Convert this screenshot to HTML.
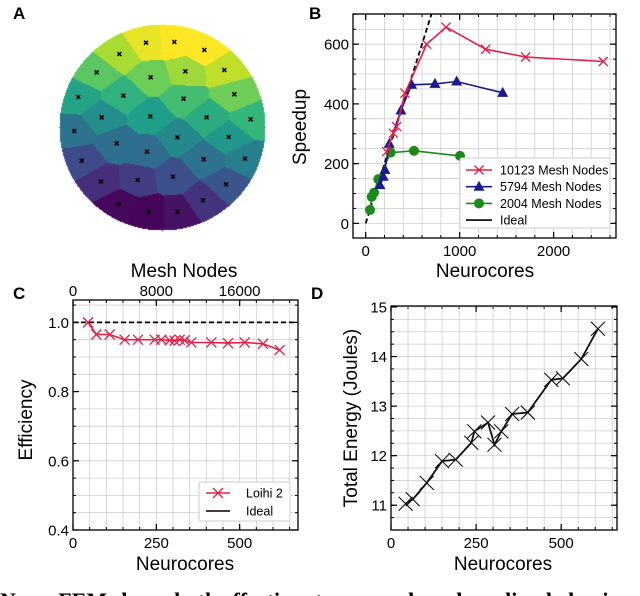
<!DOCTYPE html>
<html><head><meta charset="utf-8">
<style>
body{margin:0;background:#fff;width:640px;height:596px;overflow:hidden;position:relative;font-family:"Liberation Sans",sans-serif}
svg{position:absolute;left:0;top:0}
canvas{position:absolute}
</style></head>
<body>
<canvas id="mesh" width="220" height="220" style="left:52px;top:17px"></canvas>
<svg id="fig" width="640" height="596"></svg>
<script>
// ---------- Data ----------
const seedX=[358,438,523,613,290,452,556,673,235,370,551,703,305,451,620,752,223,350,532,686,245,441,611,735,303,413,519,678,356,446,532,609];
const seedY=[162,128,126,150,217,232,214,210,291,287,296,283,352,349,352,358,393,430,412,411,482,455,478,476,545,540,530,553,613,635,635,601];
// Panel B
const redX=[223,294,330,418,649,855,1277,1702,2528];
const redY=[240,302,324,436,600,657,583,557,542];
const blueX=[152,187,205,251,375,489,737,968,1458];
const blueY=[128,156,179,266,378,464,467,475,437];
const greenX=[46,64,89,134,266,514,1004];
const greenY=[45,89,103,148,237,243,226];
const idealBX=[0,720];
const idealBY=[0,720];
const bXTicks=[0,1000,2000];
const bYTicks=[0,200,400,600];
// Panel C
const effX=[45,70,110,155,195,245,265,290,305,320,335,355,415,465,515,570,620];
const effY=[1.0,0.965,0.965,0.95,0.95,0.95,0.95,0.948,0.947,0.95,0.948,0.942,0.942,0.94,0.942,0.938,0.92];
const cXTicks=[0,250,500];
const cYTicks=[0.4,0.6,0.8,1.0];
const cTopTicks=[0,8000,16000];
// Panel D
const enX=[43,64,105,150,190,236,245,285,304,324,356,402,471,505,559,608];
const enY=[11.03,11.12,11.45,11.89,11.92,12.26,12.49,12.67,12.22,12.49,12.84,12.87,13.53,13.56,13.95,14.56];
const dXTicks=[0,250,500];
const dYTicks=[11,12,13,14,15];

// ---------- Panel A ----------
(function(){
  const cv=document.getElementById('mesh');const ctx=cv.getContext('2d');
  const stops=[[68,1,84],[72,40,120],[62,74,137],[49,104,142],[38,130,142],[31,158,137],[53,183,121],[109,205,89],[180,222,44],[253,231,37]];
  function vir(t){t=Math.max(0,Math.min(1,t));const f=t*(stops.length-1);const i=Math.min(stops.length-2,Math.floor(f));const r=f-i;
    return stops[i].map((c,k)=>Math.round(c+(stops[i+1][k]-c)*r));}
  const sx=seedX.map(v=>v/3),sy=seedY.map(v=>v/3);
  const cols=sx.map((x,i)=>vir(1-(seedY[i]-120)/530+(seedX[i]-480)/2500));
  const img=ctx.createImageData(220,220);const cx=162-52,cy=127-17,R=103;
  for(let y=0;y<220;y++)for(let x=0;x<220;x++){
    const dx=x-cx,dy=y-cy;if(dx*dx+dy*dy>R*R)continue;
    let best=0,bd=1e9;const gx=x+52,gy=y+17;
    for(let i=0;i<sx.length;i++){const d=(gx-sx[i])**2+(gy-sy[i])**2*1.6;if(d<bd){bd=d;best=i;}}
    const c=cols[best];const p=(y*220+x)*4;img.data[p]=c[0];img.data[p+1]=c[1];img.data[p+2]=c[2];img.data[p+3]=255;}
  ctx.putImageData(img,0,0);
})();

const NS='http://www.w3.org/2000/svg';
const svg=document.getElementById('fig');
function el(tag,attrs,parent){const e=document.createElementNS(NS,tag);for(const k in attrs)e.setAttribute(k,attrs[k]);(parent||svg).appendChild(e);return e;}
function txt(s,attrs,parent){const e=el('text',attrs,parent);e.textContent=s;return e;}

const gA=el('g',{});


for(let i=0;i<seedX.length;i++){const x=seedX[i]/3,y=seedY[i]/3;
  const m=el('path',{d:`M${x-2} ${y-2}L${x+2} ${y+2}M${x-2} ${y+2}L${x+2} ${y-2}`,stroke:'#000','stroke-width':1.5},gA);
  
  }

function axes(o){
  const g=el('g',{});
  
  
  const sx=v=>o.x0+(v-o.xmin)/(o.xmax-o.xmin)*(o.x1-o.x0);
  const sy=v=>o.y1-(v-o.ymin)/(o.ymax-o.ymin)*(o.y1-o.y0);
  for(let v=o.gx0;v<=o.xmax+1e-9;v+=o.gxs){const x=sx(v);if(x<o.x0||x>o.x1)continue;
    const l=el('line',{x1:x,x2:x,y1:o.y0,y2:o.y1,stroke:'#cfcfcf','stroke-width':0.8},g);
    el('line',{x1:x,x2:x,y1:o.y1,y2:o.y1-3,stroke:'#000','stroke-width':1},g);el('line',{x1:x,x2:x,y1:o.y0,y2:o.y0+3,stroke:'#000','stroke-width':1},g);}
  for(let v=o.gy0;v<=o.ymax+1e-9;v+=o.gys){const y=sy(v);if(y<o.y0-0.1||y>o.y1)continue;
    const l=el('line',{x1:o.x0,x2:o.x1,y1:y,y2:y,stroke:'#cfcfcf','stroke-width':0.8},g);
    el('line',{x1:o.x0,x2:o.x0+3,y1:y,y2:y,stroke:'#000','stroke-width':1},g);el('line',{x1:o.x1,x2:o.x1-3,y1:y,y2:y,stroke:'#000','stroke-width':1},g);}
  for(const v of o.xt){const x=sx(v);el('line',{x1:x,x2:x,y1:o.y1,y2:o.y1-6,stroke:'#000','stroke-width':1.2},g);el('line',{x1:x,x2:x,y1:o.y0,y2:o.y0+6,stroke:'#000','stroke-width':1.2},g);
    const t=txt(String(v),{x:x,y:o.y1+18,'font-size':15,'text-anchor':'middle'},g);}
  for(const v of o.yt){const y=sy(v);el('line',{x1:o.x0,x2:o.x0+6,y1:y,y2:y,stroke:'#000','stroke-width':1.2},g);el('line',{x1:o.x1,x2:o.x1-6,y1:y,y2:y,stroke:'#000','stroke-width':1.2},g);
    const t=txt(o.yf?o.yf(v):String(v),{x:o.x0-4,y:y+5.5,'font-size':15,'text-anchor':'end'},g);}
  const f=el('rect',{x:o.x0,y:o.y0,width:o.x1-o.x0,height:o.y1-o.y0,fill:'none',stroke:'#000','stroke-width':1.3},g);
  
  return {sx,sy,g};
}
function pts(a,X,Y){return X.map((v,i)=>a.sx(v).toFixed(1)+','+a.sy(Y[i]).toFixed(1)).join(' ');}
function cross(g,x,y,s,c,w){return el('path',{d:`M${x-s} ${y-s}L${x+s} ${y+s}M${x-s} ${y+s}L${x+s} ${y-s}`,stroke:c,'stroke-width':w,fill:'none'},g);}

// ---------- Panel B ----------
const B=axes({name:'speedup-chart',x0:353,x1:616,y0:14,y1:238,xmin:-135,xmax:2664,ymin:-49,ymax:701,gx0:0,gxs:200,gy0:0,gys:50,xt:bXTicks,yt:bYTicks});
const clipB=el('clipPath',{id:'cb'});el('rect',{x:353,y:14,width:263,height:224},clipB);
const sB=el('g',{'clip-path':'url(#cb)'});
const idl=el('polyline',{points:pts(B,idealBX,idealBY),fill:'none',stroke:'#000','stroke-width':1.8,'stroke-dasharray':'5,3'},sB);

const gl=el('polyline',{points:pts(B,greenX,greenY),fill:'none',stroke:'#1a8a1a','stroke-width':1.6},sB);

greenX.forEach((v,i)=>{const c=el('circle',{cx:B.sx(v),cy:B.sy(greenY[i]),r:5,fill:'#1a8a1a'},sB);});
const bl=el('polyline',{points:pts(B,blueX,blueY),fill:'none',stroke:'#1a1a8c','stroke-width':1.6},sB);

blueX.forEach((v,i)=>{const x=B.sx(v),y=B.sy(blueY[i]);const t=el('path',{d:`M${x} ${y-6}L${x+5.5} ${y+4}L${x-5.5} ${y+4}Z`,fill:'#1a1a8c'},sB);});
const rl=el('polyline',{points:pts(B,redX,redY),fill:'none',stroke:'#e0204a','stroke-width':1.6},sB);

redX.forEach((v,i)=>{const m=cross(sB,B.sx(v),B.sy(redY[i]),4.5,'#e0204a',1.3);});
const lgB=el('g',{});
el('rect',{x:460,y:158,width:150,height:70,fill:'#fff',stroke:'#ccc','stroke-width':1,rx:2},lgB);
[['10123 Mesh Nodes','#e0204a','x'],['5794 Mesh Nodes','#1a1a8c','t'],['2004 Mesh Nodes','#1a8a1a','o'],['Ideal','#000','']].forEach((e,i)=>{
  const y=170+i*16.7;const g=el('g',{},lgB);
  el('line',{x1:466,x2:492,y1:y,y2:y,stroke:e[1],'stroke-width':1.6},g);
  if(e[2]=='x')cross(g,479,y,4.5,e[1],1.3);
  if(e[2]=='t')el('path',{d:`M479 ${y-6}L484.5 ${y+4}L473.5 ${y+4}Z`,fill:e[1]},g);
  if(e[2]=='o')el('circle',{cx:479,cy:y,r:5,fill:e[1]},g);
  txt(e[0],{x:500,y:y+4.5,'font-size':12.5},g);});

// ---------- Panel C ----------
const C=axes({name:'efficiency-chart',x0:73,x1:298,y0:300,y1:530,xmin:0,xmax:675,ymin:0.4,ymax:1.0647,gx0:0,gxs:50,gy0:0.4,gys:0.05,xt:cXTicks,yt:cYTicks,yf:v=>v.toFixed(1)});
cTopTicks.forEach(v=>{const x=C.sx(v/32);const t=txt(String(v),{x:x,y:296,'font-size':15,'text-anchor':'middle'});});
const ci=el('line',{x1:73,x2:298,y1:C.sy(1),y2:C.sy(1),stroke:'#000','stroke-width':1.8,'stroke-dasharray':'5,3'});

const el2=el('polyline',{points:pts(C,effX,effY),fill:'none',stroke:'#e0204a','stroke-width':1.6});

effX.forEach((v,i)=>{const m=cross(svg,C.sx(v),C.sy(effY[i]),5,'#e0204a',1.3);});
const lgC=el('g',{});
el('rect',{x:199,y:482,width:91,height:39,fill:'#fff',stroke:'#ccc','stroke-width':1,rx:2},lgC);
el('line',{x1:206,x2:230,y1:493,y2:493,stroke:'#e0204a','stroke-width':1.6},lgC);cross(lgC,218,493,5,'#e0204a',1.3);
txt('Loihi 2',{x:246,y:497.5,'font-size':12.5},lgC);
el('line',{x1:206,x2:230,y1:511,y2:511,stroke:'#000','stroke-width':1.6},lgC);
txt('Ideal',{x:246,y:515.5,'font-size':12.5},lgC);

// ---------- Panel D ----------
const D=axes({name:'energy-chart',x0:391,x1:617,y0:306,y1:530,xmin:0,xmax:664,ymin:10.5,ymax:15.02,gx0:0,gxs:50,gy0:10.5,gys:0.25,xt:dXTicks,yt:dYTicks});
const dl=el('polyline',{points:pts(D,enX,enY),fill:'none',stroke:'#111','stroke-width':1.8});

enX.forEach((v,i)=>{const m=cross(svg,D.sx(v),D.sy(enY[i]),7,'#111',1.1);});

// ---------- Labels ----------
function lab(s,a,name){const t=txt(s,a);return t;}
lab('A',{x:13,y:19,'font-size':17,'font-weight':'bold'},'panel-label-a');
lab('B',{x:309,y:19,'font-size':17,'font-weight':'bold'},'panel-label-b');
lab('C',{x:13,y:299,'font-size':17,'font-weight':'bold'},'panel-label-c');
lab('D',{x:311,y:299,'font-size':17,'font-weight':'bold'},'panel-label-d');
lab('Neurocores',{x:485,y:277,'font-size':19,'text-anchor':'middle'},'x-axis-title-b');
lab('Speedup',{x:0,y:0,'font-size':19,'text-anchor':'middle',transform:'translate(306,127) rotate(-90)'},'y-axis-title-b');
lab('Mesh Nodes',{x:184,y:277,'font-size':19,'text-anchor':'middle'},'top-axis-title-c');
lab('Neurocores',{x:185,y:570,'font-size':19,'text-anchor':'middle'},'x-axis-title-c');
lab('Efficiency',{x:0,y:0,'font-size':19,'text-anchor':'middle',transform:'translate(32,420) rotate(-90)'},'y-axis-title-c');
lab('Neurocores',{x:503,y:570,'font-size':19,'text-anchor':'middle'},'x-axis-title-d');
lab('Total Energy (Joules)',{x:0,y:0,'font-size':19,'text-anchor':'middle',transform:'translate(357,418) rotate(-90)'},'y-axis-title-d');
lab('NeuroFEM shows both effective strong- and weak-scaling behavior',{x:0,y:608,'font-size':22,'font-weight':'bold','font-family':'"Liberation Serif",serif'},'figure-caption');
</script>
</body></html>
